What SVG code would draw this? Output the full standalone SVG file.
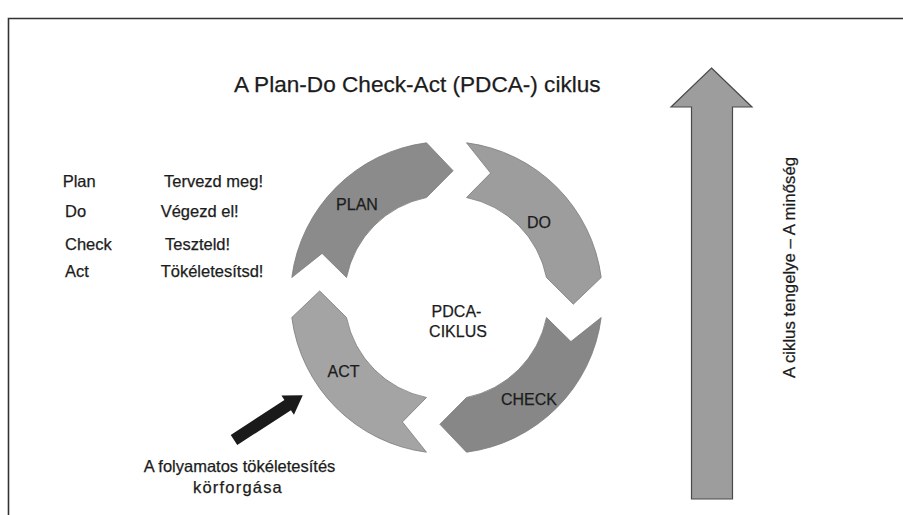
<svg xmlns="http://www.w3.org/2000/svg" width="903" height="515" viewBox="0 0 903 515">
<style>
text{font-family:"Liberation Sans",Arial,sans-serif;fill:#1c1c1c;stroke:#1c1c1c;stroke-width:0.25}
.seg{stroke:#7a7a7a;stroke-width:0.8}
.lbl{font-size:16px;text-anchor:middle}
.lst{font-size:16.5px}
</style>
<rect width="903" height="515" fill="#ffffff"/>
<path d="M8.5,520 V18.5 H910" fill="none" stroke="#333" stroke-width="1.6"/>
<text x="234" y="92" font-size="22.6">A Plan-Do Check-Act (PDCA-) ciklus</text>
<g id="list">
<text class="lst" x="62.7" y="187">Plan</text>
<text class="lst" x="164" y="187">Tervezd meg!</text>
<text class="lst" x="65" y="217">Do</text>
<text class="lst" x="160.7" y="217">Végezd el!</text>
<text class="lst" x="65" y="249.5">Check</text>
<text class="lst" x="165" y="249.5">Teszteld!</text>
<text class="lst" x="65" y="277">Act</text>
<text class="lst" x="160.7" y="277">Tökéletesítsd!</text>
</g>
<g id="plan">
<path class="seg" fill="#8b8b8b" d="M291.8,277.5 L322.1,253.4 L346.5,277.5 A102,102 0 0 1 426.5,197.5 L453.1,170.7 L426.5,142.8 A156,156 0 0 0 291.8,277.5 Z"/>
<text class="lbl" x="357" y="210">PLAN</text>
</g>
<g id="do">
<path class="seg" fill="#9d9d9d" d="M466.5,142.8 L490.6,173.1 L466.5,197.5 A102,102 0 0 1 546.5,277.5 L573.3,304.2 L601.2,277.5 A156,156 0 0 0 466.5,142.8 Z"/>
<text class="lbl" x="539" y="228">DO</text>
</g>
<g id="check">
<path class="seg" fill="#878787" d="M601.2,317.5 L570.9,341.6 L546.5,317.5 A102,102 0 0 1 466.5,397.5 L439.9,424.3 L466.5,452.2 A156,156 0 0 0 601.2,317.5 Z"/>
<text class="lbl" x="529" y="405">CHECK</text>
</g>
<g id="act">
<path class="seg" fill="#a4a4a4" d="M426.5,452.2 L402.4,421.9 L426.5,397.5 A102,102 0 0 1 346.5,317.5 L319.7,290.9 L291.8,317.5 A156,156 0 0 0 426.5,452.2 Z"/>
<text class="lbl" x="343.5" y="376.5">ACT</text>
</g>
<g id="center">
<text class="lbl" x="456.5" y="317">PDCA-</text>
<text class="lbl" x="458" y="337">CIKLUS</text>
</g>
<g id="axis">
<polygon points="711.5,68 752,107 732.5,107 732.5,499 691.5,499 691.5,107 671,107" fill="#9d9d9d" stroke="#4a4a4a" stroke-width="1.2"/>
<text transform="translate(795,267.5) rotate(-90)" font-size="16.8" text-anchor="middle">A ciklus tengelye – A minőség</text>
</g>
<g id="connectors">
<polygon transform="translate(234,440) rotate(-33)" points="0,-6 64,-6 64,-11.5 82,0 64,11.5 64,6 0,6" fill="#1a1a1a"/>
</g>
<g id="note">
<text x="239.5" y="471.5" font-size="16.5" text-anchor="middle">A folyamatos tökéletesítés</text>
<text x="238" y="493" font-size="16.5" letter-spacing="1.2" text-anchor="middle">körforgása</text>
</g>
</svg>
